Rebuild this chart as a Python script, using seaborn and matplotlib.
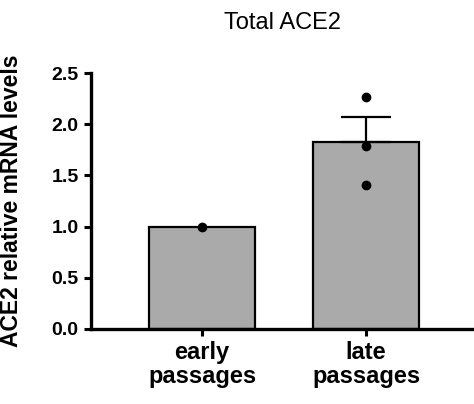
"""
Total ACE2 relative mRNA levels, early vs late passages
"""
import numpy as np
import pandas as pd
import seaborn as sns
import matplotlib
matplotlib.use("Agg")
import matplotlib.pyplot as plt

groups = ["early\npassages", "late\npassages"]
early_vals = [1.0]
late_vals = [2.27, 1.79, 1.41]
yticks = [0.0, 0.5, 1.0, 1.5, 2.0, 2.5]

data = pd.DataFrame({
    "group": [groups[0]] * len(early_vals) + [groups[1]] * len(late_vals),
    "value": early_vals + late_vals,
})

sns.set_style("ticks", {"axes.edgecolor": "black", "text.color": "black",
                        "xtick.color": "black", "ytick.color": "black",
                        "axes.labelcolor": "black"})
plt.rcParams["font.family"] = ["Liberation Sans", "DejaVu Sans"]

fig = plt.figure(figsize=(4.74, 4.04), dpi=100)
ax = fig.add_axes([0.192, 0.186, 0.808, 0.633])

sns.barplot(data=data, x="group", y="value", order=groups, errorbar=None,
            color="#aaaaaa", saturation=1, width=0.65,
            edgecolor="black", linewidth=1.6, ax=ax)

# upper-only SEM bar for the late group
late = np.array(late_vals)
mean = late.mean()
sem = late.std(ddof=1) / np.sqrt(len(late))
ax.errorbar([1], [mean], yerr=[[0], [sem]], fmt="none", ecolor="black",
            elinewidth=1.6, capsize=18, capthick=1.6, zorder=3)

sns.stripplot(data=data, x="group", y="value", order=groups, jitter=False,
              color="black", size=7, ax=ax, zorder=4)

ax.set_ylim(0, 2.5)
ax.set_xlim(-0.677, 1.658)
ax.set_yticks(yticks)
ax.set_yticklabels([f"{t:.1f}" for t in yticks], fontsize=14, fontweight="bold")
ax.set_xticks([0, 1])
ax.set_xticklabels(groups, fontsize=17, fontweight="bold", linespacing=1.05)
ax.set_xlabel("")
ax.set_ylabel("ACE2 relative mRNA levels", fontsize=16.5, fontweight="bold")
ax.yaxis.set_label_coords(-0.178, 0.5)
ax.set_title("Total ACE2", fontsize=17, pad=32)

sns.despine(ax=ax)
for side in ["left", "bottom"]:
    ax.spines[side].set_linewidth(2.4)
ax.tick_params(axis="both", width=2.2, length=5, direction="out", pad=4,
               color="black")

fig.savefig("out.png", dpi=100)
